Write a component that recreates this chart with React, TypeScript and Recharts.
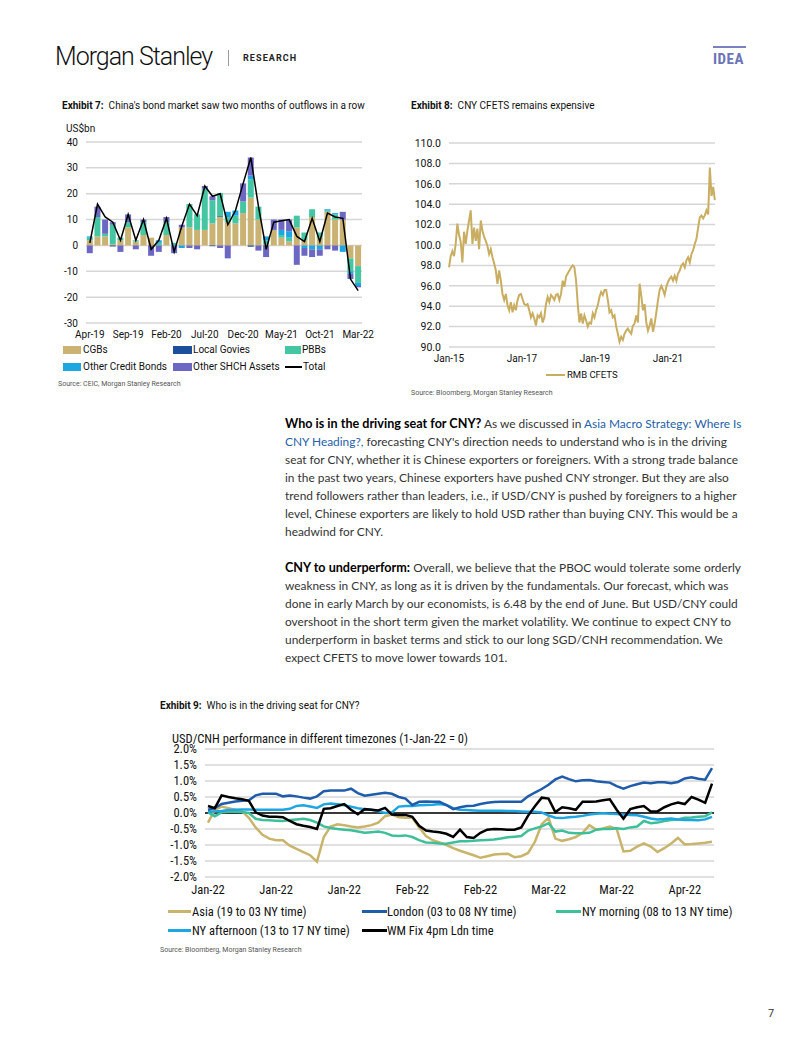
import React from 'react'
import { ComposedChart, LineChart, Bar, Line, XAxis, YAxis, CartesianGrid, ReferenceLine } from 'recharts'

// ---------- Exhibit 7: bond flows, US$bn ----------
const flowMonths = ['Apr-19', 'May-19', 'Jun-19', 'Jul-19', 'Aug-19', 'Sep-19', 'Oct-19', 'Nov-19', 'Dec-19', 'Jan-20', 'Feb-20', 'Mar-20', 'Apr-20', 'May-20', 'Jun-20', 'Jul-20', 'Aug-20', 'Sep-20', 'Oct-20', 'Nov-20', 'Dec-20', 'Jan-21', 'Feb-21', 'Mar-21', 'Apr-21', 'May-21', 'Jun-21', 'Jul-21', 'Aug-21', 'Sep-21', 'Oct-21', 'Nov-21', 'Dec-21', 'Jan-22', 'Feb-22', 'Mar-22']
const cgbs = [2, 3.5, 3.5, 0.5, 2, 7, 1.5, 4, 3, 0, 4, 0, 7, 7, 6, 6, 8.5, 11, 9, 8.5, 12.5, 18.5, 10, 0.5, 6, 3, 1.5, 7, 2, 11, 3, 13, 10, 10, -5, -8]
const localGovies = [0, 0, 0, -0.4, 0, 0, 0, 0, 0, 0, 0, 0, 0, 0, 0, 0, -0.3, 0.3, 0, 0, 0, -0.5, 0, 0, 0, 0, 0, 0, 0, 0, 0, 0, 0, 0, 0, 0]
const pbbs = [1, 7.5, 1, 7.5, 1, 2, 0.5, 5, 0, 1, 5, 1, 0, 9, 6, 16, 9, 9, 2, 3, 4.5, 7, 5, 1.5, 0, 1, 1.5, 4.5, 3, 3, 2, 0.5, 2, 0, -5, -6.5]
const otherCredit = [0.5, 0, 0, 0, 0, 0, 0, 0, 0, 1, 0, 0, -1, 0, 0, 0, 0, 0, 2, 2, 0, 1.5, 0, 1.5, 0, 2, 2.5, 0, -1, -1.5, -1.5, 0.5, 0.5, -2.5, -1, -1.2]
const otherShch = [-3, 4, 5.5, 1, -2.5, 3, -1.5, 1, -4, -2.5, 2, -3, 1, -1, -1.5, 1, 1.5, -1, -5, 0, 7, 7, -2, -4.5, 4, 4, 4.5, -7.5, -3, -3, -2.5, -1.5, -2, 3, -2, -0.5]
const flowTotal = [1, 16, 11, 9, 2, 12, 2, 10, -1.5, 2, 10.5, -2.5, 7.5, 16, 11.5, 23, 19, 20, 8, 13.5, 24, 34, 15, -1.5, 9, 9.5, 10, 3.5, 1.5, 10.5, 1.5, 12.5, 11, 10.5, -13, -17.5]
const flowTicks = [-30, -20, -10, 0, 10, 20, 30, 40]

// ---------- Exhibit 8: RMB CFETS index (samples about every half month from Jan-15) ----------
const cfetsStepMonths = 0.55
const cfetsValues = [
  97.8, 98.9, 99.4, 98.9, 100.1, 102.1, 101.0, 100.3, 98.3, 101.3, 100.1, 101.4, 102.4, 103.4, 100.1, 101.7,
  100.4, 101.6, 99.6, 102.4, 101.4, 100.8, 100.4, 99.9, 99.1, 99.6, 98.8, 98.2, 97.5, 96.2, 97.5, 96.5,
  95.2, 94.6, 95.2, 94.1, 93.6, 94.4, 93.4, 94.1, 93.6, 94.6, 95.1, 95.2, 94.7, 94.2, 94.1, 94.2,
  93.6, 92.9, 93.3, 92.8, 92.1, 93.1, 92.9, 93.3, 92.4, 92.9, 94.2, 94.9, 94.4, 95.1, 94.9, 94.6,
  95.1, 95.2, 94.6, 95.2, 96.5, 95.9, 96.9, 97.2, 97.5, 97.8, 98.0, 97.8, 96.5, 94.2, 92.4, 93.3,
  92.3, 93.1, 92.6, 92.0, 92.4, 92.3, 93.3, 92.9, 93.6, 94.1, 94.9, 95.4, 95.1, 95.6, 95.6, 94.6,
  93.4, 93.6, 92.9, 93.1, 92.0, 91.3, 90.5, 91.0, 90.7, 91.3, 91.6, 91.8, 91.5, 91.3, 92.1, 92.3,
  93.1, 92.4, 96.2, 95.0, 93.6, 94.2, 92.4, 91.6, 92.1, 92.8, 91.5, 92.3, 93.4, 94.6, 95.6, 96.0,
  95.6, 95.1, 95.9, 96.4, 96.7, 96.9, 96.5, 97.0, 96.5, 97.2, 97.5, 98.0, 98.2, 97.8, 98.5, 98.8,
  98.3, 99.1, 99.5, 100.1, 100.6, 101.7, 102.7, 102.9, 102.6, 102.9, 103.4, 103.0, 107.6, 104.8, 105.7, 104.4,
]
const cfetsTickMonths = [0, 24, 48, 72]
const cfetsTickLabels = ['Jan-15', 'Jan-17', 'Jan-19', 'Jan-21']
const cfetsTicksY = [90, 92, 94, 96, 98, 100, 102, 104, 106, 108, 110]

// ---------- Exhibit 9: USD/CNH by timezone, % since 1-Jan-22 (business days) ----------
const fxDates = [
  '3-Jan-22', '4-Jan-22', '5-Jan-22', '6-Jan-22', '7-Jan-22', '10-Jan-22', '11-Jan-22', '12-Jan-22', '13-Jan-22', '14-Jan-22',
  '17-Jan-22', '18-Jan-22', '19-Jan-22', '20-Jan-22', '21-Jan-22', '24-Jan-22', '25-Jan-22', '26-Jan-22', '27-Jan-22', '28-Jan-22',
  '31-Jan-22', '1-Feb-22', '2-Feb-22', '3-Feb-22', '4-Feb-22', '7-Feb-22', '8-Feb-22', '9-Feb-22', '10-Feb-22', '11-Feb-22',
  '14-Feb-22', '15-Feb-22', '16-Feb-22', '17-Feb-22', '18-Feb-22', '21-Feb-22', '22-Feb-22', '23-Feb-22', '24-Feb-22', '25-Feb-22',
  '28-Feb-22', '1-Mar-22', '2-Mar-22', '3-Mar-22', '4-Mar-22', '7-Mar-22', '8-Mar-22', '9-Mar-22', '10-Mar-22', '11-Mar-22',
  '14-Mar-22', '15-Mar-22', '16-Mar-22', '17-Mar-22', '18-Mar-22', '21-Mar-22', '22-Mar-22', '23-Mar-22', '24-Mar-22', '25-Mar-22',
  '28-Mar-22', '29-Mar-22', '30-Mar-22', '31-Mar-22', '1-Apr-22', '4-Apr-22', '5-Apr-22', '6-Apr-22', '7-Apr-22', '8-Apr-22',
  '11-Apr-22', '12-Apr-22', '13-Apr-22', '14-Apr-22', '15-Apr-22',
]
const asia = [
  -0.30, 0.10, 0.20, 0.15, 0.10, 0.05, -0.15, -0.45, -0.68, -0.80, -0.85, -0.85, -1.02, -1.12, -1.22, -1.32, -1.52, -0.75, -0.42, -0.35,
  -0.38, -0.42, -0.45, -0.42, -0.38, -0.30, -0.10, -0.05, -0.13, -0.15, -0.15, -0.45, -0.72, -0.85, -0.92, -1.00, -1.10, -1.18, -1.25, -1.32,
  -1.40, -1.35, -1.30, -1.28, -1.27, -1.38, -1.35, -1.25, -0.90, -0.35, -0.15, -0.80, -0.87, -0.82, -0.75, -0.62, -0.38, -0.52, -0.48, -0.42,
  -0.50, -1.20, -1.18, -1.05, -0.95, -1.05, -1.22, -1.10, -0.95, -0.78, -0.98, -0.97, -0.95, -0.93, -0.90,
]
const london = [
  0.10, 0.15, 0.28, 0.32, 0.36, 0.38, 0.40, 0.55, 0.60, 0.60, 0.60, 0.52, 0.55, 0.52, 0.48, 0.45, 0.52, 0.68, 0.70, 0.70,
  0.70, 0.76, 0.62, 0.54, 0.57, 0.60, 0.63, 0.60, 0.50, 0.45, 0.25, 0.35, 0.36, 0.35, 0.35, 0.25, 0.12, 0.18, 0.22, 0.23,
  0.28, 0.32, 0.34, 0.35, 0.35, 0.35, 0.35, 0.52, 0.64, 0.75, 0.88, 1.05, 1.14, 1.06, 0.99, 1.02, 1.03, 0.99, 0.97, 0.95,
  0.84, 0.76, 0.84, 0.90, 0.95, 0.93, 0.96, 0.96, 0.93, 0.97, 1.08, 1.12, 1.07, 1.04, 1.40,
]
const nyMorning = [
  0.02, -0.10, 0.02, 0.04, 0.04, 0.03, 0.00, -0.18, -0.22, -0.23, -0.24, -0.25, -0.22, -0.20, -0.18, -0.22, -0.30, -0.42, -0.47, -0.50,
  -0.52, -0.54, -0.58, -0.62, -0.60, -0.58, -0.62, -0.70, -0.72, -0.70, -0.75, -0.85, -0.92, -0.93, -0.95, -0.96, -0.92, -0.88, -0.88, -0.87,
  -0.85, -0.84, -0.83, -0.80, -0.76, -0.74, -0.72, -0.55, -0.48, -0.42, -0.32, -0.58, -0.55, -0.62, -0.63, -0.63, -0.62, -0.52, -0.50, -0.50,
  -0.48, -0.50, -0.45, -0.42, -0.25, -0.32, -0.30, -0.25, -0.22, -0.20, -0.15, -0.14, -0.12, -0.10, 0.02,
]
const nyAfternoon = [
  0.05, 0.05, 0.06, 0.09, 0.10, 0.11, 0.11, 0.10, 0.10, 0.10, 0.10, 0.10, 0.13, 0.22, 0.24, 0.20, 0.16, 0.27, 0.30, 0.27,
  0.24, 0.20, 0.15, 0.12, 0.10, 0.05, 0.00, 0.02, 0.20, 0.22, 0.22, 0.24, 0.25, 0.26, 0.28, 0.25, 0.15, 0.10, 0.09, 0.08,
  0.07, 0.07, 0.07, 0.07, 0.06, 0.06, 0.05, 0.04, 0.04, 0.02, -0.08, -0.15, -0.16, -0.13, -0.12, -0.09, -0.05, -0.02, -0.01, -0.02,
  -0.03, -0.05, -0.06, -0.07, -0.12, -0.17, -0.20, -0.19, -0.17, -0.20, -0.22, -0.22, -0.23, -0.20, -0.12,
]
const wmFix = [
  0.22, 0.15, 0.55, 0.50, 0.46, 0.43, 0.38, 0.02, -0.08, -0.12, -0.12, -0.13, -0.25, -0.35, -0.40, -0.44, -0.50, 0.13, 0.15, 0.22,
  0.28, 0.10, -0.04, 0.12, 0.10, 0.08, 0.16, -0.05, -0.06, -0.06, -0.12, -0.40, -0.55, -0.58, -0.60, -0.65, -0.75, -0.52, -0.75, -0.78,
  -0.62, -0.52, -0.50, -0.51, -0.52, -0.52, -0.45, -0.08, 0.21, 0.48, 0.45, 0.03, 0.18, 0.15, 0.10, 0.35, 0.35, 0.36, 0.40, 0.43,
  0.10, -0.18, 0.12, 0.18, 0.22, 0.05, 0.05, 0.18, 0.27, 0.33, 0.28, 0.50, 0.42, 0.32, 0.92,
]
const fxTicks = [-2, -1.5, -1, -0.5, 0, 0.5, 1, 1.5, 2]

const flowData = flowMonths.map((m, i) => ({
  month: m, cgbs: cgbs[i], local: localGovies[i], pbbs: pbbs[i], credit: otherCredit[i], shch: otherShch[i], total: flowTotal[i],
}))
const cfetsData = cfetsValues.map((v, i) => ({ t: i * cfetsStepMonths, v }))
const fxData = fxDates.map((d, i) => ({
  d, asia: asia[i], london: london[i], nyam: nyMorning[i], nypm: nyAfternoon[i], wm: wmFix[i],
}))

const ROBO = 'Roboto, sans-serif'
const COND = "'Liberation Sans Narrow', 'Roboto Condensed', Roboto, sans-serif"
const C = {
  cgbs: '#c9b272', local: '#1b4f9c', pbbs: '#45c6a2', credit: '#1ea6e0', shch: '#6d67c4',
  cfets: '#c9ae62', asia: '#c9b46c', london: '#1f5caa', nyam: '#3dbf99', nypm: '#1ea6e3',
}

function T({ x, y, size = 11, children, style }: { x: number; y: number; size?: number; children: React.ReactNode; style?: React.CSSProperties }) {
  return (
    <div style={{ position: 'absolute', left: x, top: y - size * 0.6, fontSize: size, lineHeight: `${size * 1.2}px`, whiteSpace: 'nowrap', ...style }}>
      {children}
    </div>
  )
}

function Swatch({ x, y, w, h, color }: { x: number; y: number; w: number; h: number; color: string }) {
  return <div style={{ position: 'absolute', left: x, top: y - h / 2, width: w, height: h, background: color }} />
}

const link = { color: '#2660a8' }
const lead = { color: '#000', fontSize: 12.6 }
const body: React.CSSProperties = { position: 'absolute', left: 285, fontFamily: 'Lato, sans-serif', fontSize: 11.9, lineHeight: '18px', color: '#333', whiteSpace: 'nowrap' }

export default function App() {
  const tick10 = { fontSize: 10, fill: '#111', fontFamily: ROBO }
  const tick3 = { fontSize: 12.5, fill: '#111', fontFamily: COND }
  return (
    <div style={{ position: 'absolute', left: 0, top: 0, width: 802, height: 1037, background: '#fff', overflow: 'hidden', fontFamily: ROBO, color: '#111' }}>
      {/* header */}
      <T x={55} y={57} size={25} style={{ fontWeight: 300, letterSpacing: -1, color: '#111' }}>Morgan Stanley</T>
      <div style={{ position: 'absolute', left: 228, top: 50, width: 1, height: 16, background: '#999' }} />
      <T x={243} y={58} size={9} style={{ fontWeight: 700, letterSpacing: 1.1, color: '#222' }}>RESEARCH</T>
      <div style={{ position: 'absolute', left: 713, top: 46, width: 33, height: 2, background: '#7880bd' }} />
      <T x={713} y={59} size={15} style={{ fontWeight: 700, color: '#6b74b6', fontFamily: COND, letterSpacing: 0.5 }}>IDEA</T>

      {/* Exhibit 7 */}
      <T x={62} y={106} size={10}><b>Exhibit 7:</b>&nbsp; China's bond market saw two months of outflows in a row</T>
      <T x={66} y={129} size={10}>US$bn</T>
      <div style={{ position: 'absolute', left: 56, top: 137 }}>
        <ComposedChart width={325} height={206} data={flowData} stackOffset="sign" barCategoryGap="10%" margin={{ top: 5, right: 19, bottom: 0, left: 0 }}>
          <CartesianGrid vertical={false} stroke="#d6d6d6" strokeWidth={1.5} />
          <XAxis dataKey="month" interval={4} axisLine={false} tickLine={false} tick={tick10} height={20} />
          <YAxis domain={[-30, 40]} ticks={flowTicks} interval={0} width={30} axisLine={false} tickLine={false} tick={tick10} />
          <Bar dataKey="cgbs" stackId="f" fill={C.cgbs} isAnimationActive={false} />
          <Bar dataKey="local" stackId="f" fill={C.local} isAnimationActive={false} />
          <Bar dataKey="pbbs" stackId="f" fill={C.pbbs} isAnimationActive={false} />
          <Bar dataKey="credit" stackId="f" fill={C.credit} isAnimationActive={false} />
          <Bar dataKey="shch" stackId="f" fill={C.shch} isAnimationActive={false} />
          <Line dataKey="total" stroke="#000" strokeWidth={1.5} dot={false} activeDot={false} isAnimationActive={false} />
        </ComposedChart>
      </div>
      <Swatch x={63} y={350} w={18} h={8} color={C.cgbs} />
      <T x={83} y={350} size={10}>CGBs</T>
      <Swatch x={173} y={350} w={19} h={8} color={C.local} />
      <T x={193} y={350} size={10}>Local Govies</T>
      <Swatch x={285} y={350} w={16} h={8} color={C.pbbs} />
      <T x={302} y={350} size={10}>PBBs</T>
      <Swatch x={63} y={367} w={18} h={8} color={C.credit} />
      <T x={83} y={367} size={10}>Other Credit Bonds</T>
      <Swatch x={173} y={367} w={19} h={8} color={C.shch} />
      <T x={193} y={367} size={10}>Other SHCH Assets</T>
      <Swatch x={285} y={367} w={17} h={2} color="#000" />
      <T x={303} y={367} size={10}>Total</T>
      <T x={58} y={384} size={7} style={{ color: '#555' }}>Source: CEIC, Morgan Stanley Research</T>

      {/* Exhibit 8 */}
      <T x={411} y={106} size={10}><b>Exhibit 8:</b>&nbsp; CNY CFETS remains expensive</T>
      <div style={{ position: 'absolute', left: 407, top: 138 }}>
        <LineChart width={313} height={229} data={cfetsData} margin={{ top: 5, right: 5, bottom: 0, left: 0 }}>
          <CartesianGrid vertical={false} stroke="#d6d6d6" strokeWidth={1.5} />
          <XAxis dataKey="t" type="number" domain={[0, 87.5]} ticks={cfetsTickMonths} tickFormatter={(v: number) => cfetsTickLabels[cfetsTickMonths.indexOf(v)]} axisLine={false} tickLine={false} tick={tick10} height={20} />
          <YAxis domain={[90, 110]} ticks={cfetsTicksY} interval={0} tickFormatter={(v: number) => v.toFixed(1)} width={42} axisLine={false} tickLine={false} tick={{ ...tick10, fontSize: 10.5 }} />
          <Line dataKey="v" stroke={C.cfets} strokeWidth={2} dot={false} activeDot={false} isAnimationActive={false} />
        </LineChart>
      </div>
      <Swatch x={546} y={375} w={19} h={2} color={C.cfets} />
      <T x={567} y={375} size={9.5}>RMB CFETS</T>
      <T x={411} y={393} size={7} style={{ color: '#555' }}>Source: Bloomberg, Morgan Stanley Research</T>

      {/* body text */}
      <div style={{ ...body, top: 415 }}>
        <b style={lead}>Who is in the driving seat for CNY?</b> As we discussed in <span style={link}>Asia Macro Strategy: Where Is</span><br />
        <span style={link}>CNY Heading?,</span> forecasting CNY's direction needs to understand who is in the driving<br />
        seat for CNY, whether it is Chinese exporters or foreigners. With a strong trade balance<br />
        in the past two years, Chinese exporters have pushed CNY stronger. But they are also<br />
        trend followers rather than leaders, i.e., if USD/CNY is pushed by foreigners to a higher<br />
        level, Chinese exporters are likely to hold USD rather than buying CNY. This would be a<br />
        headwind for CNY.
      </div>
      <div style={{ ...body, top: 559 }}>
        <b style={lead}>CNY to underperform:</b> Overall, we believe that the PBOC would tolerate some orderly<br />
        weakness in CNY, as long as it is driven by the fundamentals. Our forecast, which was<br />
        done in early March by our economists, is 6.48 by the end of June. But USD/CNY could<br />
        overshoot in the short term given the market volatility. We continue to expect CNY to<br />
        underperform in basket terms and stick to our long SGD/CNH recommendation. We<br />
        expect CFETS to move lower towards 101.
      </div>

      {/* Exhibit 9 */}
      <T x={160} y={706} size={10}><b>Exhibit 9:</b>&nbsp; Who is in the driving seat for CNY?</T>
      <div style={{ position: 'absolute', left: 160, top: 734 }}>
        <LineChart width={559} height={163} data={fxData} margin={{ top: 15, right: 5, bottom: 0, left: 0 }}>
          <CartesianGrid vertical={false} stroke="#d6d6d6" strokeWidth={1.5} />
          <XAxis dataKey="d" interval={9} padding={{ left: 3, right: 2 }} tickFormatter={(v: string) => v.split('-').slice(1).join('-')} axisLine={false} tickLine={false} tick={tick3} height={20} />
          <YAxis domain={[-2, 2]} ticks={fxTicks} interval={0} tickFormatter={(v: number) => `${v.toFixed(1)}%`} width={45} axisLine={false} tickLine={false} tick={tick3} />
          <ReferenceLine y={0} stroke="#000" strokeWidth={1.5} />
          <Line dataKey="asia" stroke={C.asia} strokeWidth={2.5} dot={false} activeDot={false} isAnimationActive={false} />
          <Line dataKey="nyam" stroke={C.nyam} strokeWidth={2.5} dot={false} activeDot={false} isAnimationActive={false} />
          <Line dataKey="nypm" stroke={C.nypm} strokeWidth={2.5} dot={false} activeDot={false} isAnimationActive={false} />
          <Line dataKey="london" stroke={C.london} strokeWidth={2.5} dot={false} activeDot={false} isAnimationActive={false} />
          <Line dataKey="wm" stroke="#000" strokeWidth={2.5} dot={false} activeDot={false} isAnimationActive={false} />
        </LineChart>
      </div>
      <T x={172} y={738} size={12.5} style={{ fontFamily: COND }}>USD/CNH performance in different timezones (1-Jan-22 = 0)</T>
      <Swatch x={168} y={911} w={23} h={3} color={C.asia} />
      <T x={192} y={911} size={12.5} style={{ fontFamily: COND }}>Asia (19 to 03 NY time)</T>
      <Swatch x={362} y={911} w={25} h={3} color={C.london} />
      <T x={387} y={911} size={12.5} style={{ fontFamily: COND }}>London (03 to 08 NY time)</T>
      <Swatch x={556} y={911} w={25} h={3} color={C.nyam} />
      <T x={582} y={911} size={12.5} style={{ fontFamily: COND }}>NY morning (08 to 13 NY time)</T>
      <Swatch x={168} y={930} w={23} h={3} color={C.nypm} />
      <T x={192} y={930} size={12.5} style={{ fontFamily: COND }}>NY afternoon (13 to 17 NY time)</T>
      <Swatch x={362} y={930} w={25} h={3} color="#000" />
      <T x={387} y={930} size={12.5} style={{ fontFamily: COND }}>WM Fix 4pm Ldn time</T>
      <T x={160} y={950} size={7} style={{ color: '#555' }}>Source: Bloomberg, Morgan Stanley Research</T>

      <T x={768} y={1014} size={11} style={{ color: '#333' }}>7</T>
    </div>
  )
}
